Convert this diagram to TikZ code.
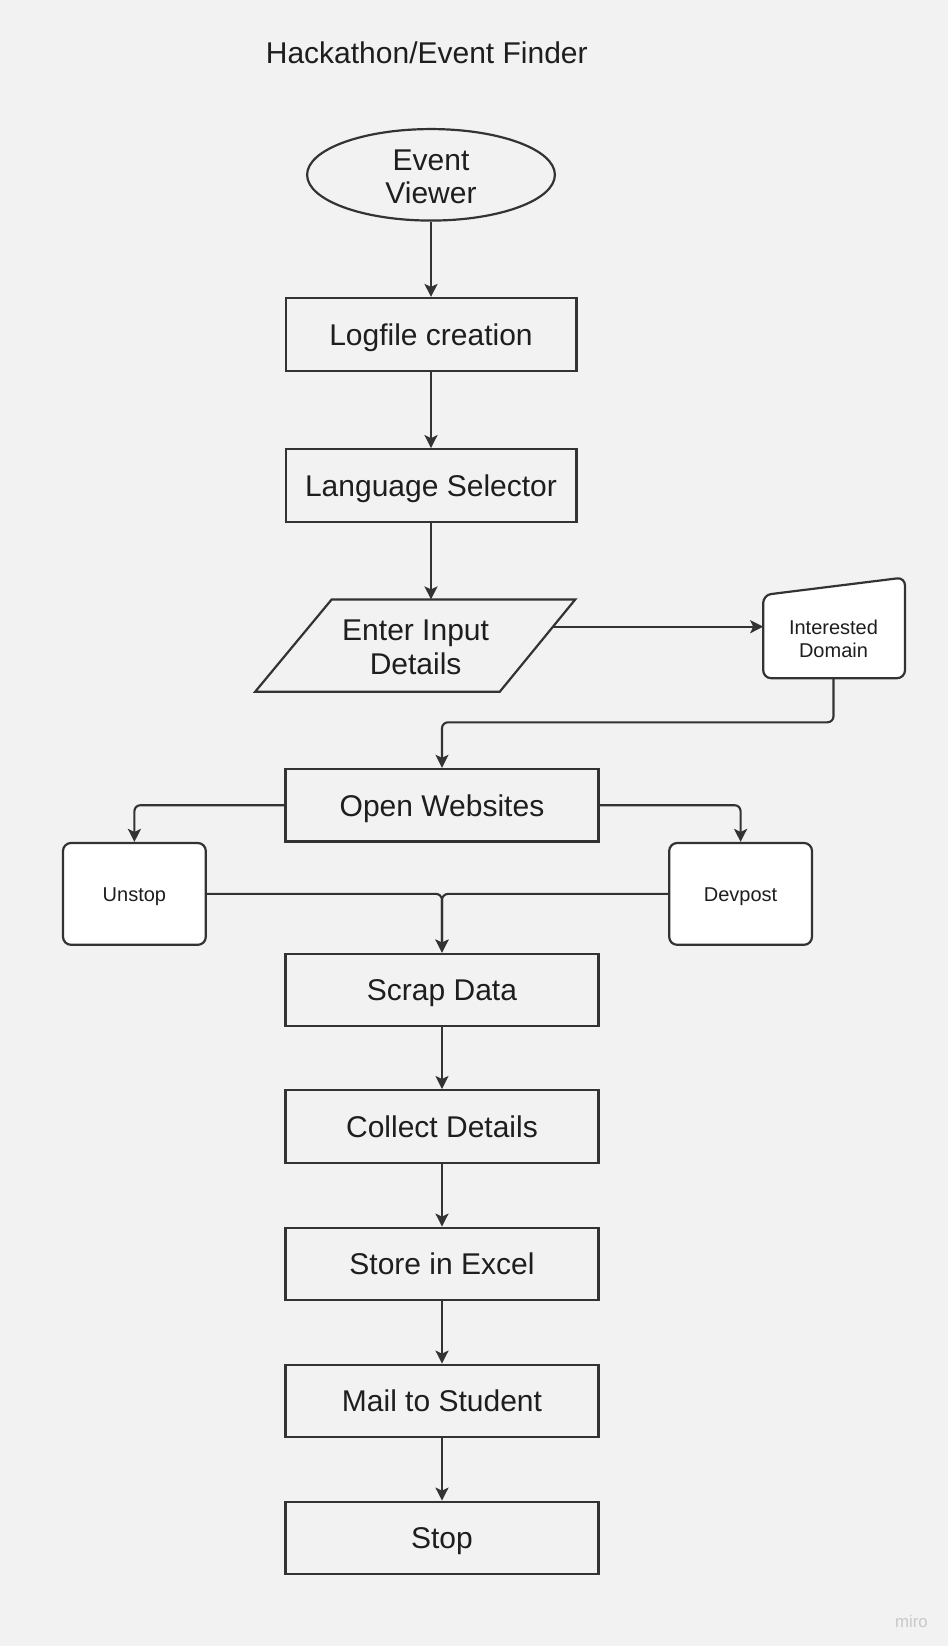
\documentclass[tikz,border=0pt]{standalone}
\usepackage{fontspec}
\setmainfont{Liberation Sans}
\usetikzlibrary{arrows.meta,shapes.geometric}
\definecolor{bg}{HTML}{F2F2F2}
\definecolor{ln}{HTML}{333333}
\definecolor{tx}{HTML}{1E1E1E}
\definecolor{wm}{HTML}{C8C8C8}
\tikzset{
  boxA/.style={draw=ln, line width=1.1pt, inner sep=0pt, minimum width=145.4pt, minimum height=36.3pt, text=tx, font=\fontsize{15}{17}\selectfont, text height=10.9pt, text depth=0pt},
  boxB/.style={boxA, minimum width=156.5pt},
  card/.style={draw=ln, fill=white, line width=1.1pt, rounded corners=4pt, inner sep=0pt, minimum width=71.4pt, minimum height=50.9pt, text=tx, font=\fontsize{10}{12}\selectfont, text height=7.2pt, text depth=0pt},
  outline/.style={draw=ln, line width=1.1pt},
  arr/.style={draw=ln, line width=1.05pt, -{Stealth[length=6.5pt,width=6.5pt,inset=1.5pt]}},
  bigtext/.style={text=tx, font=\fontsize{15}{16.8}\selectfont, align=center, inner sep=0pt},
}
\begin{document}
\begin{tikzpicture}[x=0.5pt,y=-0.5pt]
\fill[bg] (0,0) rectangle (948,1646);
\useasboundingbox (0,0) rectangle (948,1646);

\node[text=tx, font=\fontsize{15}{17}\selectfont, inner sep=0pt] (title) at (426.8,52.5) {Hackathon/Event Finder};

\node[ellipse, draw=ln, line width=1.1pt, inner sep=0pt, minimum width=123.9pt, minimum height=45.75pt] (ev) at (431,174.8) {};
\node[bigtext] (evt) at (431,177) {Event\\Viewer};

\node[boxA] (log) at (431,334.3) {Logfile creation};
\node[boxA] (lang) at (431,485.5) {Language Selector};

% parallelogram
\coordinate (p1) at (331.7,599.4);
\coordinate (p2) at (575.3,599.4);
\coordinate (p3) at (499.7,691.8);
\coordinate (p4) at (255.1,691.8);
\draw[outline] (p1) -- (p2) -- (p3) -- (p4) -- cycle;
\node[bigtext] (inp) at (415.6,647.6) {Enter Input\\Details};
\coordinate (inpR) at (553,626.7);

% interested domain (manual input)
\coordinate (d1) at (763.2,595);
\coordinate (d2) at (905,577.4);
\coordinate (d3) at (905,678.2);
\coordinate (d4) at (763.2,678.2);
\draw[outline, fill=white, rounded corners=4pt] (d1) -- (d2) -- (d3) -- (d4) -- cycle;
\node[text=tx, font=\fontsize{10}{11.5}\selectfont, align=center, inner sep=0pt] (dom) at (833.5,638.5) {Interested\\Domain};
\coordinate (domB) at (833.5,678.2);
\coordinate (bend) at (833.5,722.3);

\node[boxB] (open) at (442,805.2) {Open Websites};
\node[card] (uns) at (134.4,893.9) {Unstop};
\node[card] (dev) at (740.6,893.9) {Devpost};

\node[boxB] (scrap) at (442,990) {Scrap Data};
\node[boxB] (coll) at (442,1126.4) {Collect Details};
\node[boxB] (store) at (442,1264) {Store in Excel};
\node[boxB] (mail) at (442,1401) {Mail to Student};
\node[boxB] (stop) at (442,1538) {Stop};

\node[text=wm, font=\fontsize{8.4}{10}\selectfont, inner sep=0pt] (miro) at (911.5,1621) {miro};

% connectors
\draw[arr] (ev.south) -- (log.north);
\draw[arr] (log.south) -- (lang.north);
\draw[arr] (lang.south) -- (lang.south |- p1);
\draw[arr] (inpR) -- (inpR -| d1);
\draw[arr, rounded corners=3pt] (domB) -- (bend) -| (open.north);
\draw[arr, rounded corners=3pt] (open.west) -| (uns.north);
\draw[arr, rounded corners=3pt] (open.east) -| (dev.north);
\draw[arr, rounded corners=3pt] (uns.east) -| (scrap.north);
\draw[arr, rounded corners=3pt] (dev.west) -| (scrap.north);
\draw[arr] (scrap.south) -- (coll.north);
\draw[arr] (coll.south) -- (store.north);
\draw[arr] (store.south) -- (mail.north);
\draw[arr] (mail.south) -- (stop.north);
\end{tikzpicture}
\end{document}
